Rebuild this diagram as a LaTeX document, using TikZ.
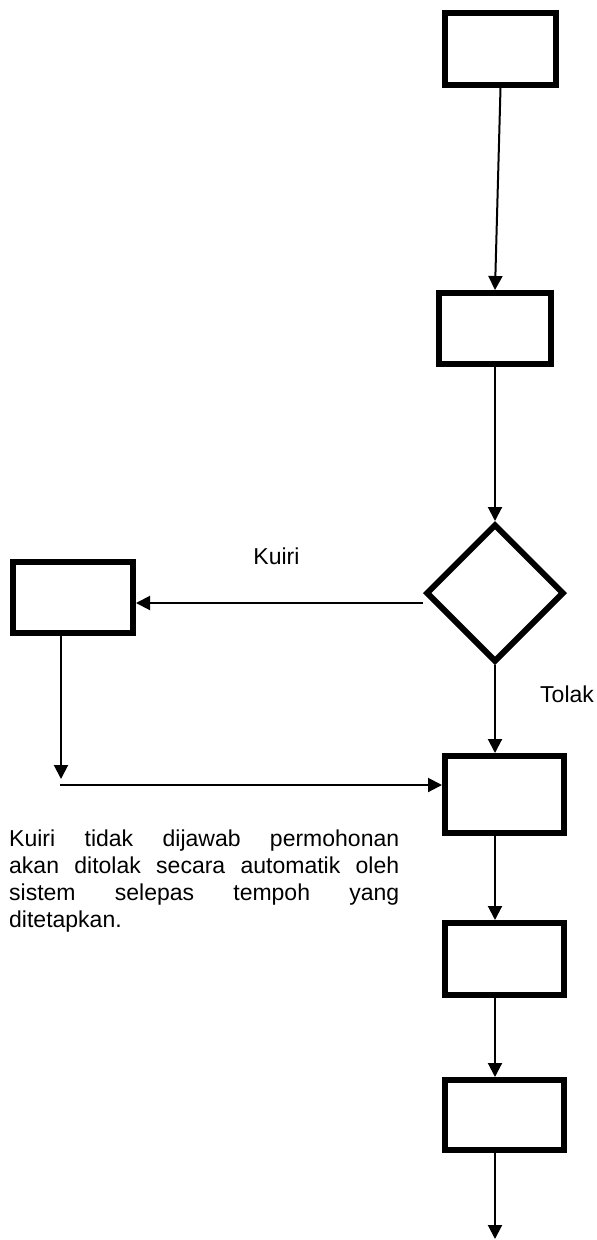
\documentclass[tikz,border=0pt]{standalone}
\usepackage{fontspec}
\setmainfont{Liberation Sans}
\usetikzlibrary{shapes.geometric,arrows.meta}
\newcommand\jline[1]{\makebox[390pt][l]{#1}}
\begin{document}
\begin{tikzpicture}[x=1pt,y=-1pt,
  box/.style={draw, line width=6pt, inner sep=0pt, fill=white},
  arr/.style={line width=2pt, -{Triangle[length=14pt,width=14pt]}},
  lbl/.style={font=\fontsize{23pt}{27pt}\selectfont, inner sep=0pt}]
\useasboundingbox (0,0) rectangle (597,1240);
% boxes
\node[box, minimum width=111pt, minimum height=72pt] (b1) at (500.5,49) {};
\node[box, minimum width=112pt, minimum height=71pt] (b2) at (495,328.5) {};
\node[box, diamond, minimum width=138pt, minimum height=138pt] (d) at (495,593) {};
\node[box, minimum width=120pt, minimum height=71pt] (lb) at (73,597.5) {};
\node[box, minimum width=119pt, minimum height=77pt] (b4) at (504.5,794.5) {};
\node[box, minimum width=119pt, minimum height=72pt] (b5) at (504.5,959) {};
\node[box, minimum width=119pt, minimum height=70pt] (b6) at (504.5,1115) {};
% main chain
\draw[arr] (b1.south) -- (b2.north);
\draw[arr] (b2.south) -- (d.north);
\draw[arr] (d.south) -- (d.south |- b4.north);
\draw[arr] (d.south |- b4.south) -- (d.south |- b5.north);
\draw[arr] (d.south |- b5.south) -- (d.south |- b6.north);
\coordinate (end) at (495,1239);
\draw[arr] (d.south |- b6.south) -- (end);
% Kuiri branch
\coordinate (kq) at ([yshift=-10pt]d.west);
\draw[arr] (kq) -- (kq -| lb.east);
\coordinate (ls) at ([xshift=-12pt]lb.south);
\coordinate (le) at (61,779);
\draw[arr] (ls) -- (le);
\coordinate (hs) at (60,785);
\draw[arr] (hs) -- (hs -| b4.west);
% labels
\node[lbl, anchor=base] (kuiri) at (276.5,564) {Kuiri};
\node[lbl, anchor=base west] (tolak) at (540,702) {Tolak};
\node[lbl, anchor=base west, align=left, text width=390pt] (note) at (9,846)
  {\jline{Kuiri\hfill tidak\hfill dijawab\hfill permohonan}\\
   \jline{akan\hfill ditolak\hfill secara\hfill automatik\hfill oleh}\\
   \jline{sistem\hfill selepas\hfill tempoh\hfill yang}\\
   ditetapkan.};
\end{tikzpicture}
\end{document}
